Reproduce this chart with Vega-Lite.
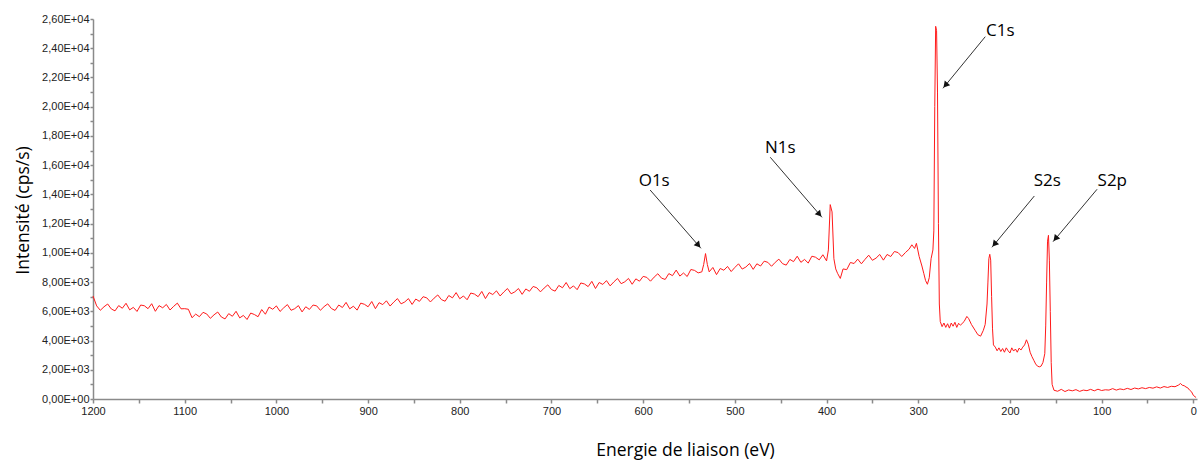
{
  "$schema": "https://vega.github.io/schema/vega-lite/v6.json",
  "autosize": {"type": "none"},
  "padding": {"left": 93, "top": 19, "right": 3, "bottom": 62},
  "width": 1104,
  "height": 380,
  "background": "white",
  "config": {"view": {"stroke": null}, "axis": {"labelOverlap": false}},
  "resolve": {"axis": {"y": "independent"}},
  "datasets": {
    "spectre": [
      {"E":1200,"I":7050},{"E":1196,"I":6370},{"E":1192,"I":6070},{"E":1188,"I":6310},{"E":1184,"I":6500},{"E":1180,"I":6160},{"E":1176,"I":6030},{"E":1172,"I":6390},{"E":1168,"I":6210},{"E":1164,"I":6550},
      {"E":1160,"I":6100},{"E":1156,"I":6270},{"E":1152,"I":5990},{"E":1148,"I":6430},{"E":1144,"I":6380},{"E":1140,"I":6180},{"E":1136,"I":6520},{"E":1132,"I":6000},{"E":1128,"I":6390},{"E":1124,"I":6240},
      {"E":1120,"I":6470},{"E":1116,"I":6090},{"E":1112,"I":6340},{"E":1108,"I":6560},{"E":1104,"I":6170},{"E":1100,"I":6180},{"E":1096,"I":6140},{"E":1092,"I":5560},{"E":1088,"I":5810},{"E":1084,"I":5630},
      {"E":1080,"I":5930},{"E":1076,"I":5820},{"E":1072,"I":5520},{"E":1068,"I":5760},{"E":1064,"I":5950},{"E":1060,"I":5610},{"E":1056,"I":5480},{"E":1052,"I":5840},{"E":1048,"I":5660},{"E":1044,"I":6000},
      {"E":1040,"I":5550},{"E":1036,"I":5720},{"E":1032,"I":5440},{"E":1028,"I":5880},{"E":1024,"I":5780},{"E":1020,"I":5630},{"E":1016,"I":6120},{"E":1012,"I":5800},{"E":1008,"I":6290},{"E":1004,"I":6140},
      {"E":1000,"I":6370},{"E":996,"I":5990},{"E":992,"I":6240},{"E":988,"I":6460},{"E":984,"I":6070},{"E":980,"I":6180},{"E":976,"I":6390},{"E":972,"I":5960},{"E":968,"I":6310},{"E":964,"I":6130},
      {"E":960,"I":6430},{"E":956,"I":6370},{"E":952,"I":6070},{"E":948,"I":6320},{"E":944,"I":6510},{"E":940,"I":6190},{"E":936,"I":6060},{"E":932,"I":6430},{"E":928,"I":6260},{"E":924,"I":6610},
      {"E":920,"I":6170},{"E":916,"I":6350},{"E":912,"I":6080},{"E":908,"I":6560},{"E":904,"I":6480},{"E":900,"I":6310},{"E":896,"I":6670},{"E":892,"I":6180},{"E":888,"I":6590},{"E":884,"I":6460},
      {"E":880,"I":6720},{"E":876,"I":6360},{"E":872,"I":6630},{"E":868,"I":6870},{"E":864,"I":6510},{"E":860,"I":6640},{"E":856,"I":6870},{"E":852,"I":6470},{"E":848,"I":6840},{"E":844,"I":6680},
      {"E":840,"I":7000},{"E":836,"I":6920},{"E":832,"I":6640},{"E":828,"I":6900},{"E":824,"I":7120},{"E":820,"I":6800},{"E":816,"I":6690},{"E":812,"I":7080},{"E":808,"I":6920},{"E":804,"I":7280},
      {"E":800,"I":6860},{"E":796,"I":7050},{"E":792,"I":6790},{"E":788,"I":7250},{"E":784,"I":7180},{"E":780,"I":7000},{"E":776,"I":7360},{"E":772,"I":6870},{"E":768,"I":7280},{"E":764,"I":7150},
      {"E":760,"I":7400},{"E":756,"I":7050},{"E":752,"I":7320},{"E":748,"I":7560},{"E":744,"I":7200},{"E":740,"I":7330},{"E":736,"I":7560},{"E":732,"I":7160},{"E":728,"I":7530},{"E":724,"I":7370},
      {"E":720,"I":7700},{"E":716,"I":7610},{"E":712,"I":7330},{"E":708,"I":7590},{"E":704,"I":7810},{"E":700,"I":7490},{"E":696,"I":7380},{"E":692,"I":7770},{"E":688,"I":7610},{"E":684,"I":7970},
      {"E":680,"I":7550},{"E":676,"I":7740},{"E":672,"I":7480},{"E":668,"I":7940},{"E":664,"I":7870},{"E":660,"I":7690},{"E":656,"I":8050},{"E":652,"I":7560},{"E":648,"I":7970},{"E":644,"I":7840},
      {"E":640,"I":8100},{"E":636,"I":7740},{"E":632,"I":8010},{"E":628,"I":8250},{"E":624,"I":7890},{"E":620,"I":8020},{"E":616,"I":8250},{"E":612,"I":7850},{"E":608,"I":8220},{"E":604,"I":8060},
      {"E":600,"I":8390},{"E":596,"I":8320},{"E":592,"I":8060},{"E":588,"I":8340},{"E":584,"I":8570},{"E":580,"I":8270},{"E":576,"I":8180},{"E":572,"I":8580},{"E":568,"I":8440},{"E":564,"I":8820},
      {"E":560,"I":8410},{"E":556,"I":8620},{"E":552,"I":8380},{"E":548,"I":8860},{"E":544,"I":8800},{"E":540,"I":8630},{"E":536,"I":8700},{"E":534,"I":9200},{"E":532,"I":9950},{"E":530,"I":9200},
      {"E":528,"I":8700},{"E":524,"I":9000},{"E":520,"I":8510},{"E":516,"I":8930},{"E":512,"I":8810},{"E":508,"I":9070},{"E":504,"I":8720},{"E":500,"I":9000},{"E":496,"I":9250},{"E":492,"I":8890},
      {"E":488,"I":9030},{"E":484,"I":9270},{"E":480,"I":8870},{"E":476,"I":9250},{"E":472,"I":9100},{"E":468,"I":9430},{"E":464,"I":9350},{"E":460,"I":9080},{"E":456,"I":9350},{"E":452,"I":9570},
      {"E":448,"I":9260},{"E":444,"I":9160},{"E":440,"I":9550},{"E":436,"I":9400},{"E":432,"I":9770},{"E":428,"I":9350},{"E":424,"I":9550},{"E":420,"I":9300},{"E":416,"I":9770},{"E":412,"I":9700},
      {"E":408,"I":9520},{"E":404,"I":9870},{"E":400,"I":9450},{"E":398,"I":10200},{"E":396,"I":13300},{"E":394,"I":12800},{"E":392,"I":9600},{"E":390,"I":8900},{"E":388,"I":8600},{"E":385,"I":8250},
      {"E":382,"I":8900},{"E":378,"I":8850},{"E":374,"I":9340},{"E":370,"I":9270},{"E":366,"I":9570},{"E":362,"I":9250},{"E":358,"I":9560},{"E":354,"I":9840},{"E":350,"I":9490},{"E":346,"I":9640},
      {"E":342,"I":9890},{"E":338,"I":9500},{"E":334,"I":9890},{"E":330,"I":9750},{"E":326,"I":10090},{"E":322,"I":10020},{"E":318,"I":9750},{"E":314,"I":10020},{"E":310,"I":10250},{"E":307,"I":10550},
      {"E":304,"I":10300},{"E":302,"I":10650},{"E":299,"I":9750},{"E":296,"I":9100},{"E":294,"I":8600},{"E":292,"I":8100},{"E":290,"I":7850},{"E":288,"I":8300},{"E":286,"I":9600},{"E":284,"I":10200},
      {"E":283,"I":11500},{"E":282,"I":20000},{"E":281,"I":25500},{"E":280,"I":25200},{"E":279,"I":21000},{"E":278,"I":12000},{"E":277,"I":6500},{"E":276,"I":5300},{"E":274,"I":4950},{"E":272,"I":5200},
      {"E":270,"I":4900},{"E":268,"I":5150},{"E":266,"I":4850},{"E":264,"I":5200},{"E":262,"I":4980},{"E":260,"I":5250},{"E":258,"I":4900},{"E":256,"I":5180},{"E":254,"I":5050},{"E":250,"I":5300},
      {"E":247,"I":5650},{"E":245,"I":5500},{"E":242,"I":5100},{"E":238,"I":4700},{"E":235,"I":4400},{"E":232,"I":4300},{"E":229,"I":4700},{"E":227,"I":5100},{"E":225,"I":6500},{"E":224,"I":8000},
      {"E":223,"I":9600},{"E":222,"I":9900},{"E":221,"I":9500},{"E":220,"I":7000},{"E":219,"I":4800},{"E":218,"I":3700},{"E":216,"I":3550},{"E":214,"I":3300},{"E":212,"I":3500},{"E":210,"I":3250},
      {"E":208,"I":3450},{"E":206,"I":3200},{"E":204,"I":3500},{"E":202,"I":3300},{"E":200,"I":3150},{"E":198,"I":3500},{"E":196,"I":3280},{"E":194,"I":3420},{"E":192,"I":3200},{"E":190,"I":3480},
      {"E":188,"I":3350},{"E":186,"I":3550},{"E":184,"I":3700},{"E":182,"I":4050},{"E":180,"I":3750},{"E":178,"I":3200},{"E":176,"I":2900},{"E":174,"I":2650},{"E":172,"I":2400},{"E":170,"I":2250},
      {"E":168,"I":2200},{"E":166,"I":2250},{"E":164,"I":2500},{"E":162,"I":3100},{"E":161,"I":5000},{"E":160,"I":8000},{"E":159,"I":10800},{"E":158,"I":11200},{"E":157,"I":9500},{"E":156,"I":6000},
      {"E":155,"I":2500},{"E":154,"I":1000},{"E":152,"I":600},{"E":148,"I":530},{"E":144,"I":660},{"E":140,"I":510},{"E":136,"I":620},{"E":132,"I":560},{"E":128,"I":640},{"E":124,"I":520},
      {"E":120,"I":610},{"E":116,"I":570},{"E":112,"I":660},{"E":108,"I":560},{"E":104,"I":670},{"E":100,"I":580},{"E":96,"I":630},{"E":92,"I":610},{"E":88,"I":710},{"E":84,"I":610},
      {"E":80,"I":690},{"E":76,"I":640},{"E":72,"I":730},{"E":68,"I":650},{"E":64,"I":750},{"E":60,"I":690},{"E":56,"I":770},{"E":52,"I":710},{"E":48,"I":790},{"E":44,"I":740},
      {"E":40,"I":830},{"E":36,"I":750},{"E":32,"I":850},{"E":28,"I":790},{"E":24,"I":870},{"E":20,"I":840},{"E":16,"I":960},{"E":14,"I":1060},{"E":12,"I":940},{"E":10,"I":910},
      {"E":8,"I":820},{"E":6,"I":760},{"E":4,"I":600},{"E":2,"I":500},{"E":0,"I":250},{"E":-3,"I":100}
    ],
    "annotations": [
      {"label":"C1s","E0":226.9,"I0":24790,"E1":273.0,"I1":21260,"Eh":270.3,"Ih":21470,"Et":210.5,"It":25180,"side":"L"},
      {"label":"S2s","E0":173.4,"I0":13890,"E1":219.6,"I1":10380,"Eh":216.9,"Ih":10590,"Et":159.3,"It":14920,"side":"L"},
      {"label":"S2p","E0":105.0,"I0":14350,"E1":153.0,"I1":10760,"Eh":150.3,"Ih":10970,"Et":88.4,"It":14920,"side":"L"},
      {"label":"N1s","E0":461.4,"I0":16540,"E1":405.0,"I1":12430,"Eh":407.8,"Ih":12640,"Et":450.5,"It":17170,"side":"R"},
      {"label":"O1s","E0":592.4,"I0":14300,"E1":537.0,"I1":10310,"Eh":539.8,"Ih":10520,"Et":588.0,"It":14920,"side":"R"}
    ]
  },
  "layer": [
    {
      "data": {"name": "spectre"},
      "mark": {"type": "line", "color": "#ff1a1a", "strokeWidth": 1, "interpolate": "linear"},
      "encoding": {
        "x": {
          "field": "E", "type": "quantitative",
          "title": "Energie de liaison (eV)",
          "scale": {"domain": [1200, -4], "nice": false, "zero": false},
          "axis": {
            "titleFont": "Open Sans", "titleFontSize": 17.5, "titleFontWeight": "normal", "titleColor": "#000",
            "titleX": 592, "titleY": 56, "titleBaseline": "alphabetic", "titleAnchor": "middle", "titleAlign": "center",
            "values": [1200,1150,1100,1050,1000,950,900,850,800,750,700,650,600,550,500,450,400,350,300,250,200,150,100,50,0],
            "format": "d",
            "labelExpr": "datum.value % 100 == 0 ? datum.label : ''",
            "labelFont": "Liberation Sans", "labelFontSize": 11, "labelColor": "#222",
            "labelPadding": 2, "tickSize": 4, "tickColor": "#8a8a8a", "tickWidth": 1.5,
            "domainColor": "#8a8a8a", "domainWidth": 1.5, "grid": false, "labelFlush": false, "labelOverlap": false
          }
        },
        "y": {
          "field": "I", "type": "quantitative",
          "title": "Intensité (cps/s)",
          "scale": {"domain": [0, 26000], "nice": false, "zero": true},
          "axis": {
            "orient": "left",
            "titleFont": "Open Sans", "titleFontSize": 17.5, "titleFontWeight": "normal", "titleColor": "#000",
            "titleX": -65, "titleY": 191, "titleBaseline": "alphabetic", "titleAlign": "center", "titleAngle": -90,
            "values": [0,2000,4000,6000,8000,10000,12000,14000,16000,18000,20000,22000,24000,26000],
            "labelExpr": "datum.value == 0 ? '0,00E+00' : (datum.value < 10000 ? replace(format(datum.value/1000, '.2f'), '.', ',') + 'E+03' : replace(format(datum.value/10000, '.2f'), '.', ',') + 'E+04')",
            "labelFont": "Liberation Sans", "labelFontSize": 11, "labelColor": "#222",
            "labelPadding": 1, "tickSize": 3, "tickColor": "#8a8a8a", "tickWidth": 1.5,
            "domainColor": "#8a8a8a", "domainWidth": 1.5, "grid": false, "labelOverlap": false, "labelFlush": false
          }
        }
      }
    },
    {
      "data": {"name": "annotations"},
      "mark": {"type": "rule", "color": "#333333", "strokeWidth": 1},
      "encoding": {
        "x": {"field": "E0", "type": "quantitative", "title": "Energie de liaison (eV)"},
        "y": {
          "field": "I0", "type": "quantitative",
          "axis": {
            "orient": "left", "title": null, "labels": false, "domain": false, "grid": false,
            "values": [1000,3000,5000,7000,9000,11000,13000,15000,17000,19000,21000,23000,25000],
            "tickSize": 3, "tickColor": "#8a8a8a", "tickWidth": 1.5
          }
        },
        "x2": {"field": "E1"},
        "y2": {"field": "I1"}
      }
    },
    {
      "data": {"name": "annotations"},
      "transform": [{"filter": "datum.side == 'L'"}],
      "mark": {"type": "point", "shape": "triangle-up", "filled": true, "color": "#111111", "size": 50, "angle": 220, "opacity": 1},
      "encoding": {
        "x": {"field": "Eh", "type": "quantitative", "title": "Energie de liaison (eV)"},
        "y": {"field": "Ih", "type": "quantitative", "axis": null}
      }
    },
    {
      "data": {"name": "annotations"},
      "transform": [{"filter": "datum.side == 'R'"}],
      "mark": {"type": "point", "shape": "triangle-up", "filled": true, "color": "#111111", "size": 50, "angle": 139, "opacity": 1},
      "encoding": {
        "x": {"field": "Eh", "type": "quantitative", "title": "Energie de liaison (eV)"},
        "y": {"field": "Ih", "type": "quantitative", "axis": null}
      }
    },
    {
      "data": {"name": "annotations"},
      "mark": {"type": "text", "font": "Open Sans", "fontSize": 17, "color": "#000", "align": "center", "baseline": "middle"},
      "encoding": {
        "x": {"field": "Et", "type": "quantitative", "title": "Energie de liaison (eV)"},
        "y": {"field": "It", "type": "quantitative", "axis": null},
        "text": {"field": "label"}
      }
    }
  ]
}
